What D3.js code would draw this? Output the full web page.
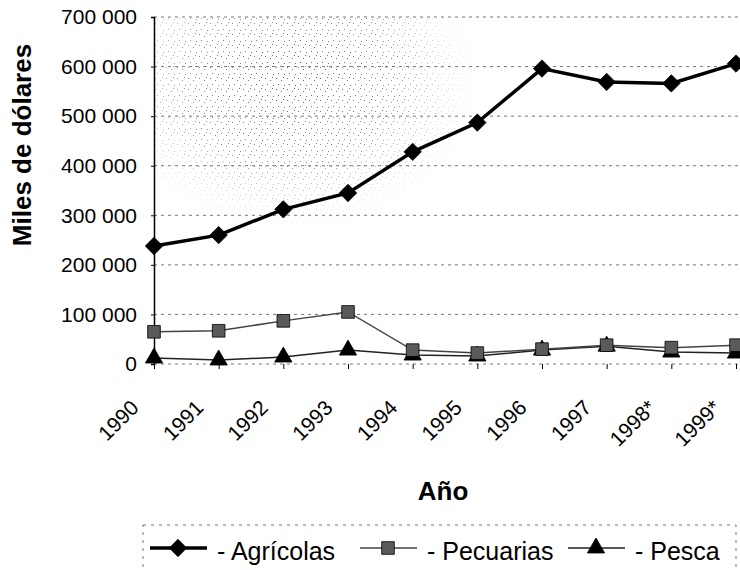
<!DOCTYPE html>
<html>
<head>
<meta charset="utf-8">
<script src="https://cdn.jsdelivr.net/npm/d3@7"></script>
<style>
  body { margin: 0; background: #fff; }
  text { font-family: Arial, "Liberation Sans", sans-serif; fill: #000; }
</style>
</head>
<body>
<div class="chart"></div>
<script>
// data
var years = ["1990", "1991", "1992", "1993", "1994", "1995", "1996", "1997", "1998*", "1999*"];
var agricolas = [238000, 260000, 312000, 345000, 428000, 487000, 596000, 569000, 566000, 606000];
var pecuarias = [65000, 67000, 87000, 105000, 28000, 22000, 30000, 38000, 33000, 38000];
var pesca = [12000, 8000, 14000, 28000, 18000, 16000, 28000, 36000, 24000, 22000];
var yTicks = [0, 100000, 200000, 300000, 400000, 500000, 600000, 700000];

var width = 740,
  height = 570;

var svg = d3.select(".chart")
  .append("svg")
  .attr("width", width)
  .attr("height", height);

var x = d3.scalePoint()
  .domain(years)
  .range([154, 736]);

var y = d3.scaleLinear()
  .domain([0, 700000])
  .range([364, 17]);

var fmt = function (d) {
  return d3.format(",")(d).replace(/,/g, " ");
};

// stipple texture of the scan (upper left of the plot)
var defs = svg.append("defs");
var pat = defs.append("pattern")
  .attr("id", "dots")
  .attr("width", 11)
  .attr("height", 11)
  .attr("patternUnits", "userSpaceOnUse");
[[1, 1], [6, 3], [3, 7], [9, 8], [8, 0]].forEach(function (p) {
  pat.append("rect")
    .attr("x", p[0])
    .attr("y", p[1])
    .attr("width", 1)
    .attr("height", 1)
    .attr("fill", "#666");
});
var grad = defs.append("radialGradient").attr("id", "fade");
grad.append("stop").attr("offset", "0%").attr("stop-color", "#fff");
grad.append("stop").attr("offset", "55%").attr("stop-color", "#bbb");
grad.append("stop").attr("offset", "100%").attr("stop-color", "#000");
defs.append("mask")
  .attr("id", "fadeMask")
  .append("ellipse")
  .attr("cx", 290)
  .attr("cy", 80)
  .attr("rx", 190)
  .attr("ry", 150)
  .attr("fill", "url(#fade)");

svg.append("rect")
  .attr("x", 155)
  .attr("y", 17)
  .attr("width", 330)
  .attr("height", 230)
  .attr("fill", "url(#dots)")
  .attr("mask", "url(#fadeMask)");

// grid
svg.append("g")
  .selectAll("line")
  .data(yTicks)
  .enter()
  .append("line")
  .attr("x1", x("1990"))
  .attr("x2", width)
  .attr("y1", d => y(d))
  .attr("y2", d => y(d))
  .attr("stroke", "#777")
  .attr("stroke-width", 1)
  .attr("stroke-dasharray", "3,4");

// y axis
var yAxis = svg.append("g")
  .attr("transform", "translate(" + x("1990") + ",0)")
  .call(d3.axisLeft(y).tickValues(yTicks).tickFormat(fmt).tickSize(3).tickPadding(14));
yAxis.select(".domain").attr("stroke", "#000").attr("stroke-width", 1.5);
yAxis.selectAll("text")
  .style("font-size", "21px")
  .style("font-family", "Arial, 'Liberation Sans', sans-serif");

// x axis ticks and rotated labels
var xAxis = svg.append("g")
  .attr("transform", "translate(0," + y(0) + ")")
  .call(d3.axisBottom(x).tickSize(5).tickFormat(""));
xAxis.select(".domain").remove();

svg.append("g")
  .selectAll("text")
  .data(years)
  .enter()
  .append("text")
  .attr("transform", d => "translate(" + (x(d) - 14) + "," + (y(0) + 45) + ") rotate(-45)")
  .attr("text-anchor", "end")
  .style("font-size", "21px")
  .text(d => d);

// axis titles
svg.append("text")
  .attr("transform", "translate(31,145) rotate(-90)")
  .attr("text-anchor", "middle")
  .style("font-size", "26px")
  .style("font-weight", "bold")
  .text("Miles de dólares");

svg.append("text")
  .attr("x", 443)
  .attr("y", 500)
  .attr("text-anchor", "middle")
  .style("font-size", "26px")
  .style("font-weight", "bold")
  .text("Año");

var line = d3.line()
  .x((d, i) => x(years[i]))
  .y(d => y(d));

var series = [
  { name: "Agrícolas", values: agricolas, stroke: "#000", width: 3.5, symbol: d3.symbolSquare, rot: 45, size: 150, fill: "#000" },
  { name: "Pecuarias", values: pecuarias, stroke: "#444", width: 1.5, symbol: d3.symbolSquare, rot: 0, size: 160, fill: "#5a5a5a" },
  { name: "Pesca", values: pesca, stroke: "#222", width: 1.5, symbol: d3.symbolTriangle, rot: 0, size: 130, fill: "#000" }
];

series.slice().reverse().forEach(function (s) {
  svg.append("path")
    .datum(s.values)
    .attr("d", line)
    .attr("fill", "none")
    .attr("stroke", s.stroke)
    .attr("stroke-width", s.width);

  svg.append("g")
    .selectAll("path")
    .data(s.values)
    .enter()
    .append("path")
    .attr("transform", (d, i) => "translate(" + x(years[i]) + "," + y(d) + ") rotate(" + s.rot + ")")
    .attr("d", d3.symbol().type(s.symbol).size(s.size))
    .attr("fill", s.fill)
    .attr("stroke", "#000")
    .attr("stroke-width", 0.8);
});

// legend
var legend = svg.append("g");
legend.append("rect")
  .attr("x", 143)
  .attr("y", 525)
  .attr("width", 593)
  .attr("height", 60)
  .attr("fill", "none")
  .attr("stroke", "#777")
  .attr("stroke-dasharray", "3,5");

var legendX = [150, 360, 568];
series.forEach(function (s, i) {
  var g = legend.append("g").attr("transform", "translate(" + legendX[i] + ",548)");
  g.append("line")
    .attr("x1", 0)
    .attr("x2", 57)
    .attr("stroke", s.stroke)
    .attr("stroke-width", s.width);
  g.append("path")
    .attr("transform", "translate(28,0) rotate(" + s.rot + ")")
    .attr("d", d3.symbol().type(s.symbol).size(s.size))
    .attr("fill", s.fill)
    .attr("stroke", "#000")
    .attr("stroke-width", 0.8);
  g.append("text")
    .attr("x", 67)
    .attr("y", 12)
    .style("font-size", "25px")
    .text("- " + s.name);
});
</script>
</body>
</html>
